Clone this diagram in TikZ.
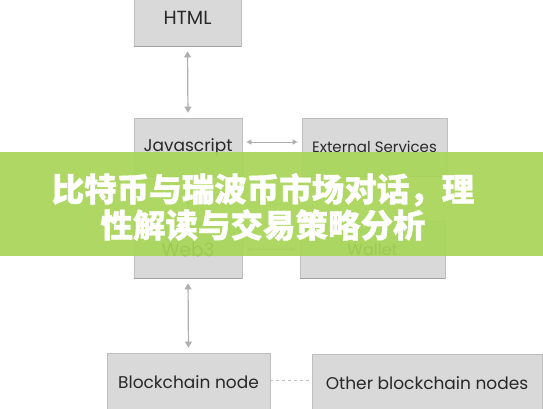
\documentclass[tikz,border=0pt]{standalone}
\usepackage{fontspec}
\setmainfont{Poppins}
\newfontfamily\cjk{Noto Sans CJK SC}[FakeBold=1.2]
\usetikzlibrary{arrows.meta}
\definecolor{boxfill}{RGB}{217,217,217}
\definecolor{boxline}{RGB}{190,190,190}
\definecolor{boxshadow}{RGB}{160,160,160}
\definecolor{arrowgray}{RGB}{175,175,175}
\definecolor{txtgray}{RGB}{40,40,40}
\definecolor{banner}{RGB}{168,214,88}
\tikzset{
  box/.style={draw=boxline, fill=boxfill, line width=0.8pt, inner sep=0pt,
    text=txtgray, font=\fontsize{17}{20}\selectfont},
  link/.style={draw=arrowgray, line width=1.2pt, {Triangle[width=7pt,length=6pt]}-{Triangle[width=7pt,length=6pt]}, shorten <=5pt, shorten >=5pt},
  hlink/.style={draw=arrowgray, line width=0.8pt, {Triangle[width=5pt,length=5pt]}-{Triangle[width=5pt,length=5pt]}, shorten <=4pt, shorten >=4pt},
  dashlink/.style={draw=boxline, line width=0.8pt, dashed}
}
\begin{document}
\begin{tikzpicture}[x=1pt,y=-1pt]
\useasboundingbox (0,0) rectangle (543,408);
\clip (0,0) rectangle (543,408);
\fill[white] (0,0) rectangle (543,408);
\node[box, minimum width=107, minimum height=56, font=\fontsize{19}{22}\selectfont] (html) at (187.5,18) {HTML};
\node[box, minimum width=108, minimum height=58] (js) at (188,147) {Javascript};
\node[box, minimum width=145, minimum height=58, font=\fontsize{15}{18}\selectfont] (ext) at (374.5,147) {External Services};
\node[box, minimum width=108, minimum height=57, font=\fontsize{18.5}{22}\selectfont] (web3) at (188,249.5) {Web3};
\node[box, minimum width=145, minimum height=57, font=\fontsize{16}{19}\selectfont] (wallet) at (372.5,249.5) {Wallet};
\node[box, minimum width=163, minimum height=59] (bc) at (188.5,382.5) {Blockchain node};
\node[box, minimum width=230, minimum height=58] (other) at (427,383) {Other blockchain nodes};
% bottom shadow lines
\foreach \n in {html,js,ext,web3,wallet}
  \draw[boxshadow, line width=1.6pt] (\n.south west) -- (\n.south east);
\draw[link] (html.south) -- (js.north);
\draw[hlink] (js.east |- 0,142) -- (ext.west |- 0,142);
\draw[link] (js.south) -- (web3.north);
\draw[hlink] (web3.east) -- (wallet.west);
\draw[link] (web3.south) -- (bc.north);
\draw[dashlink] (bc.east |- 0,380) -- (other.west |- 0,380);
% banner
\fill[banner, fill opacity=0.93] (0,152) rectangle (543,256);
\node[text=white, font=\cjk\bfseries\fontsize{32.5}{36}\selectfont, align=center] (title) at (263,207)
  {比特币与瑞波币市场对话，理\\性解读与交易策略分析};
\end{tikzpicture}
\end{document}
